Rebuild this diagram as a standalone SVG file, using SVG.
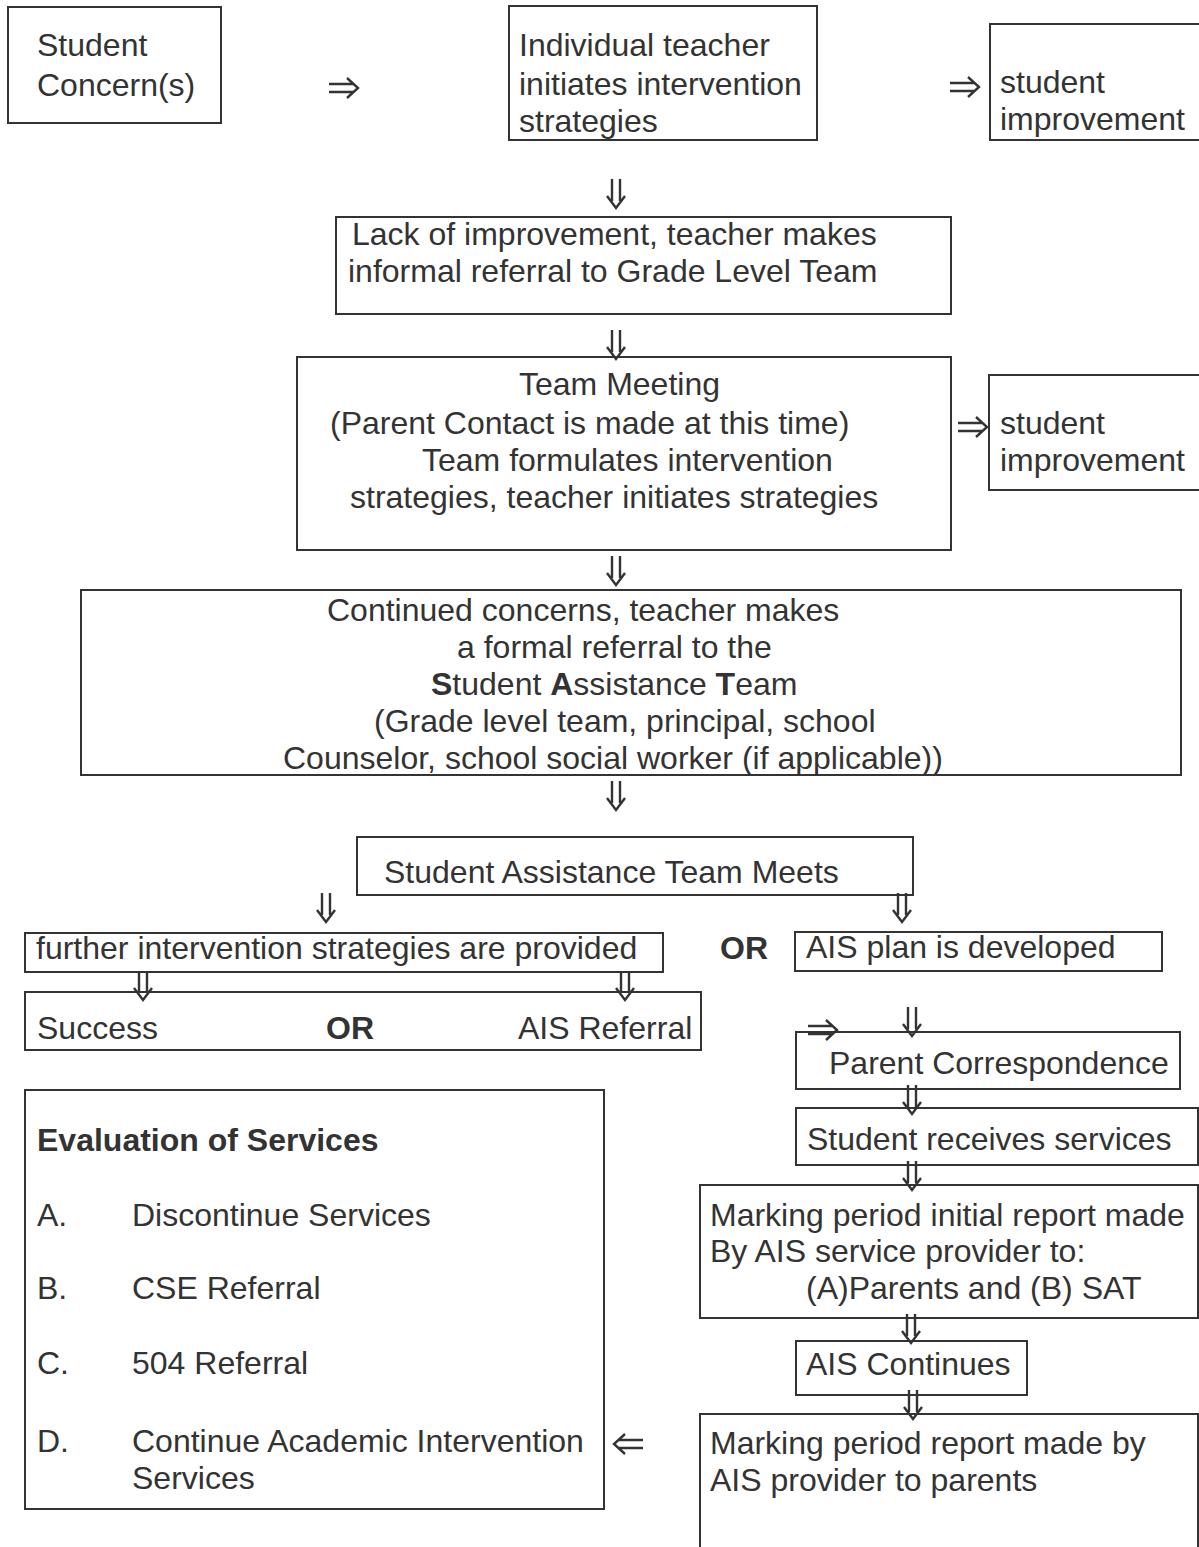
<svg xmlns="http://www.w3.org/2000/svg" width="1199" height="1547" viewBox="0 0 1199 1547">
<style>
.b{fill:#fff;stroke:#333;stroke-width:2}
.t{font-family:"Liberation Sans",Arial,sans-serif;font-size:32px;fill:#333}
.bd{font-weight:bold}
.a{fill:none;stroke:#333;stroke-width:2.4}
</style>
<defs>
<path id="rt" class="a" d="M0,-4H24M0,4H24M18,-10L29,0L18,10"/>
<path id="lt" class="a" d="M29,-4H5M29,4H5M11,-10L0,0L11,10"/>
<path id="dn" class="a" d="M-4,0V22M4,0V22M-9,17L0,29L9,17"/>
</defs>
<rect width="1199" height="1547" fill="#fff"/>
<g id="n1"><rect class="b" x="8" y="7" width="213" height="116"/><text class="t" x="37" y="56">Student</text><text class="t" x="37" y="96">Concern(s)</text></g>
<g id="n2"><rect class="b" x="509" y="6" width="308" height="134"/><text class="t" x="519" y="56">Individual teacher</text><text class="t" x="519" y="95">initiates intervention</text><text class="t" x="519" y="132">strategies</text></g>
<g id="n3"><rect class="b" x="990" y="24" width="220" height="116"/><text class="t" x="1000" y="93">student</text><text class="t" x="1000" y="130">improvement</text></g>
<g id="n4"><rect class="b" x="336" y="217" width="615" height="97"/><text class="t" x="352" y="245">Lack of improvement, teacher makes</text><text class="t" x="348" y="282">informal referral to Grade Level Team</text></g>
<g id="n5"><rect class="b" x="297" y="357" width="654" height="193"/><text class="t" x="519" y="395">Team Meeting</text><text class="t" x="330" y="434">(Parent Contact is made at this time)</text><text class="t" x="422" y="471">Team formulates intervention</text><text class="t" x="350" y="508">strategies, teacher initiates strategies</text></g>
<g id="n6"><rect class="b" x="989" y="375" width="220" height="115"/><text class="t" x="1000" y="434">student</text><text class="t" x="1000" y="471">improvement</text></g>
<g id="n7"><rect class="b" x="81" y="590" width="1100" height="185"/><text class="t" x="327" y="621">Continued concerns, teacher makes</text><text class="t" x="457" y="658">a formal referral to the</text><text class="t" x="431" y="695"><tspan class="bd">S</tspan>tudent <tspan class="bd">A</tspan>ssistance <tspan class="bd">T</tspan>eam</text><text class="t" x="374" y="732">(Grade level team, principal, school</text><text class="t" x="283" y="769">Counselor, school social worker (if applicable))</text></g>
<g id="n8"><rect class="b" x="357" y="837" width="556" height="58"/><text class="t" x="384" y="883">Student Assistance Team Meets</text></g>
<g id="n9"><rect class="b" x="25" y="933" width="638" height="39"/><text class="t" x="36" y="959">further intervention strategies are provided</text></g>
<text class="t bd" x="720" y="959">OR</text>
<g id="n10"><rect class="b" x="795" y="932" width="367" height="39"/><text class="t" x="806" y="958">AIS plan is developed</text></g>
<g id="n11"><rect class="b" x="25" y="992" width="676" height="58"/><text class="t" x="37" y="1039">Success</text><text class="t bd" x="326" y="1039">OR</text><text class="t" x="518" y="1039">AIS Referral</text></g>
<g id="n12"><rect class="b" x="796" y="1032" width="384" height="57"/><text class="t" x="829" y="1074">Parent Correspondence</text></g>
<g id="n13"><rect class="b" x="796" y="1108" width="402" height="57"/><text class="t" x="807" y="1150">Student receives services</text></g>
<g id="n14"><rect class="b" x="700" y="1185" width="498" height="133"/><text class="t" x="710" y="1226">Marking period initial report made</text><text class="t" x="710" y="1262">By AIS service provider to:</text><text class="t" x="806" y="1299">(A)Parents and (B) SAT</text></g>
<g id="n15"><rect class="b" x="796" y="1341" width="231" height="54"/><text class="t" x="806" y="1375">AIS Continues</text></g>
<g id="n16"><rect class="b" x="700" y="1414" width="498" height="150"/><text class="t" x="710" y="1454">Marking period report made by</text><text class="t" x="710" y="1491">AIS provider to parents</text></g>
<g id="n17"><rect class="b" x="25" y="1090" width="579" height="419"/><text class="t bd" x="37" y="1151">Evaluation of Services</text><text class="t" x="37" y="1226">A.</text><text class="t" x="132" y="1226">Discontinue Services</text><text class="t" x="37" y="1299">B.</text><text class="t" x="132" y="1299">CSE Referral</text><text class="t" x="37" y="1374">C.</text><text class="t" x="132" y="1374">504 Referral</text><text class="t" x="37" y="1452">D.</text><text class="t" x="132" y="1452">Continue Academic Intervention</text><text class="t" x="132" y="1489">Services</text></g>
<g id="connectors">
<use href="#rt" x="329" y="88"/>
<use href="#rt" x="950" y="87"/>
<use href="#dn" x="616" y="179"/>
<use href="#dn" x="616" y="330"/>
<use href="#rt" x="958" y="427"/>
<use href="#dn" x="616" y="556"/>
<use href="#dn" x="616" y="781"/>
<use href="#dn" x="326" y="893"/>
<use href="#dn" x="902" y="893"/>
<use href="#dn" x="143" y="971"/>
<use href="#dn" x="625" y="971"/>
<use href="#rt" x="808" y="1030"/>
<use href="#dn" x="912" y="1007"/>
<use href="#dn" x="912" y="1085"/>
<use href="#dn" x="912" y="1161"/>
<use href="#dn" x="911" y="1314"/>
<use href="#dn" x="913" y="1390"/>
<use href="#lt" x="614" y="1444"/>
</g>
</svg>
